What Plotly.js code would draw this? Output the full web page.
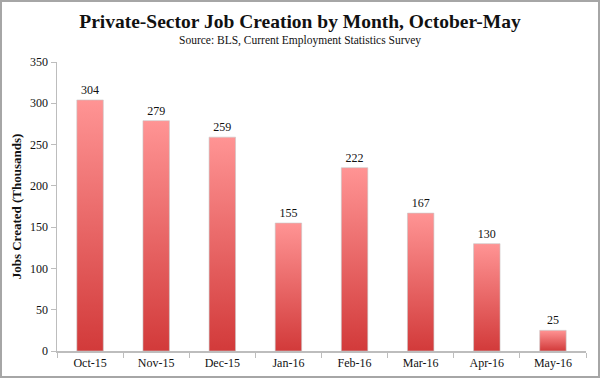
<!DOCTYPE html>
<html><head><meta charset="utf-8">
<script src="https://cdn.plot.ly/plotly-3.0.1.min.js"></script>
<style>
html,body{margin:0;padding:0;background:#fff;}
#c{width:596px;height:374px;border:2px solid #a6a6a6;}
</style></head>
<body><div id="c"></div>
<script>
var months = ["Oct-15","Nov-15","Dec-15","Jan-16","Feb-16","Mar-16","Apr-16","May-16"];
var jobs = [304,279,259,155,222,167,130,25];
var yTicks = [0,50,100,150,200,250,300,350];

var serif = "Liberation Serif, Times New Roman, serif";
var trace = {
  type: "bar", x: months, y: jobs,
  text: jobs.map(String), textposition: "outside", cliponaxis: false,
  textfont: {family: serif, size: 12, color: "#111"},
  marker: {color: "#e85c5c", line: {color: "rgba(200,200,200,0.6)", width: 1}},
  hoverinfo: "none"
};
var layout = {
  width: 596, height: 374,
  margin: {l: 55, r: 12, t: 60, b: 25},
  paper_bgcolor: "#fff", plot_bgcolor: "#fff",
  showlegend: false, bargap: 0.6,
  font: {family: serif, color: "#111"},
  title: {
    text: "<b>Private-Sector Job Creation by Month, October-May</b>",
    font: {family: serif, size: 19.5, color: "#111"},
    xref: "container", x: 0.5, xanchor: "center",
    yref: "container", y: 0.948, yanchor: "middle"
  },
  xaxis: {
    type: "category", showline: true, linecolor: "#bdbdbd", linewidth: 1.5,
    ticks: "outside", tickson: "boundaries", ticklen: 5, tickcolor: "#bdbdbd",
    tickfont: {family: serif, size: 12, color: "#111"}, showgrid: false, zeroline: false
  },
  yaxis: {
    range: [0, 350], tickvals: yTicks, showline: true, linecolor: "#bdbdbd", linewidth: 1.5,
    ticks: "outside", ticklen: 5, tickcolor: "#bdbdbd", showgrid: false, zeroline: false,
    tickfont: {family: serif, size: 12, color: "#111"},
    title: {text: "<b>Jobs Created (Thousands)</b>", font: {family: serif, size: 13, color: "#111"}, standoff: 5}
  },
  annotations: [
    {xref: "paper", yref: "paper", x: 0.459, y: 1, yshift: 22, xanchor: "center", yanchor: "middle", showarrow: false,
     text: "Source: BLS, Current Employment Statistics Survey", font: {family: serif, size: 11.5, color: "#111"}}
  ]
};
Plotly.newPlot("c", [trace], layout, {displayModeBar: false, staticPlot: true}).then(function(gd){
  var svg = gd.querySelector("svg.main-svg");
  var ns = "http://www.w3.org/2000/svg";
  var defs = svg.querySelector("defs") || svg.insertBefore(document.createElementNS(ns, "defs"), svg.firstChild);
  var lg = document.createElementNS(ns, "linearGradient");
  lg.setAttribute("id", "barGrad"); lg.setAttribute("x1", "0"); lg.setAttribute("y1", "0");
  lg.setAttribute("x2", "0"); lg.setAttribute("y2", "1");
  [["0", "#ff9494"], ["1", "#d23a3a"]].forEach(function(s){
    var st = document.createElementNS(ns, "stop");
    st.setAttribute("offset", s[0]); st.setAttribute("stop-color", s[1]);
    lg.appendChild(st);
  });
  defs.appendChild(lg);
  gd.querySelectorAll(".bars .point path").forEach(function(p){ p.style.fill = "url(#barGrad)"; });
});
</script></body></html>
